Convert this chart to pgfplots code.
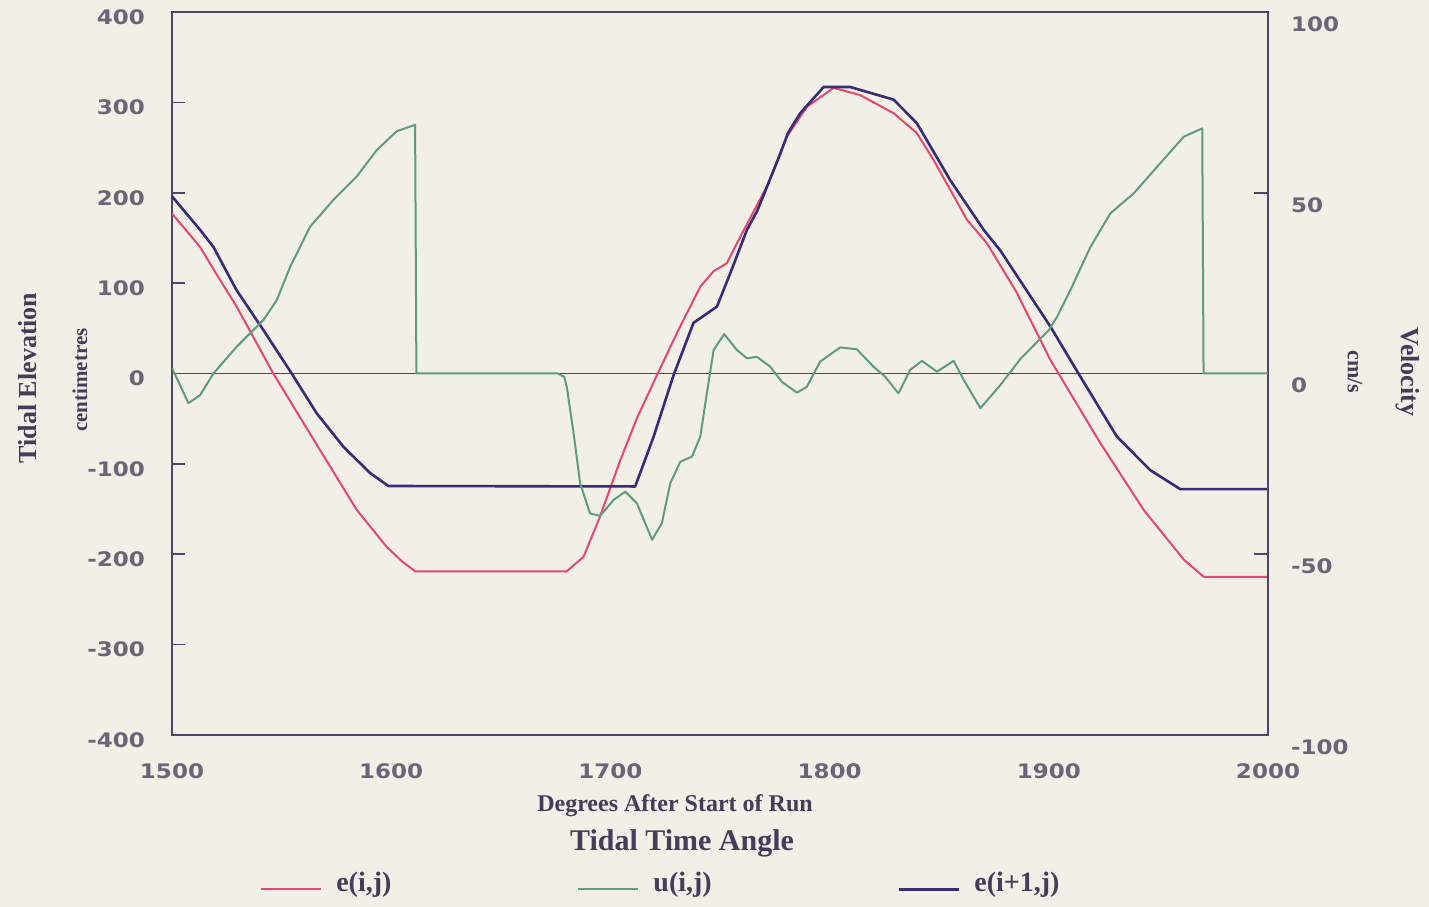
\documentclass[border=0pt]{standalone}
\usepackage{fontspec}
\setmainfont{Liberation Serif}
\newfontfamily\tickfont[FakeStretch=1.15]{DejaVu Sans}
\usepackage{pgfplots}
\pgfplotsset{compat=1.18}
\usetikzlibrary{backgrounds}

\definecolor{bg}{HTML}{F2EFE6}
\definecolor{redc}{HTML}{E8466E}
\definecolor{greenc}{HTML}{5E9C7C}
\definecolor{bluec}{HTML}{362C78}
\definecolor{axc}{HTML}{4E4668}
\definecolor{tickc}{HTML}{6A6478}
\definecolor{labc}{HTML}{443C5A}

\pgfplotsset{
  common/.style={
    scale only axis, width=548pt, height=361.5pt,
    xmin=1500, xmax=2000,
    axis line style={axc, line width=0.8pt},
    tick style={axc, line width=0.8pt},
    tick align=inside,
    /pgf/number format/assume math mode=true,
    /pgf/number format/1000 sep={},
    tick label style={font=\tickfont\bfseries\fontsize{10}{12}\selectfont, text=tickc},
  }
}

\begin{document}
\begin{tikzpicture}
\begin{axis}[common, name=main,
  ymin=-400, ymax=400,
  ytick={-400,-300,...,400},
  xtick={1500,1600,...,2000},
  ytick pos=left,
  xtick style={draw=none},
  major tick length=6.5pt,
  yticklabel style={xshift=-10pt, yshift=-2.5pt},
  xticklabel style={yshift=-11pt},
  legend columns=3,
  legend style={draw=none, fill=none, at={(0.447,-0.205)}, anchor=center,
    font=\bfseries\fontsize{14}{16}\selectfont, text=labc,
    /tikz/every odd column/.append style={column sep=5pt},
    /tikz/every even column/.append style={column sep=91pt}},
  legend image code/.code={\draw[#1] (0pt,-3pt) -- (30pt,-3pt);},
]
% zero reference line
\addplot[axc, line width=0.8pt, forget plot] coordinates {(1500,0) (2000,0)};

% e(i,j)
\addplot[redc, line width=1pt, line join=round] coordinates {
(1500,177) (1512.8,140) (1520,111) (1529.5,74) (1546.2,0) (1567.6,-85)
(1584.3,-151) (1598,-192) (1605,-208) (1611,-219) (1680,-219) (1687.7,-203)
(1695,-160) (1704.5,-96) (1712,-50) (1721.2,-2) (1731,48) (1741,96)
(1747,113) (1753.1,122) (1759.2,151) (1771.4,207) (1780.5,262) (1789.6,295)
(1801.8,316) (1814,308) (1829.2,288) (1839.8,266) (1847.5,236) (1862.7,170)
(1871.8,144) (1885.5,89) (1900.7,15) (1905.3,-3.5) (1923.5,-77) (1943.3,-151)
(1961.6,-206) (1970.7,-225) (2000,-225)
};
\addlegendentry{e(i,j)}

\addlegendimage{greenc, line width=1pt}
\addlegendentry{u(i,j)}

% e(i+1,j)
\addplot[bluec, line width=1.3pt, line join=round] coordinates {
(1500,196) (1512.8,159) (1518.9,140) (1529.5,92) (1541.7,48) (1554.6,0)
(1566,-44) (1578.2,-81) (1590.3,-110) (1598.7,-124.5) (1711.3,-125)
(1719.7,-70) (1728.8,-2) (1737.9,56) (1748.6,74) (1754.7,111) (1762.3,159)
(1767,180) (1772,210) (1777,240) (1781,266) (1786.6,288) (1797.3,317)
(1809.4,317) (1829.2,303) (1839.8,277) (1855,214) (1870.3,159) (1877.9,136)
(1900.7,52) (1914.4,-3.5) (1931.1,-70) (1946.3,-107) (1960,-128) (2000,-128)
};
\addlegendentry{e(i+1,j)}
\end{axis}

\begin{axis}[common,
  at={(main.south west)}, anchor=south west,
  ymin=-100, ymax=100,
  ytick={-100,-50,...,100},
  axis x line=none,
  axis y line*=right,
  major tick length=7pt,
  yticklabel style={xshift=8pt, yshift=-6pt},
]
% u(i,j), velocity in cm/s
\addplot[greenc, line width=1pt, line join=round] coordinates {
(1500,1.5) (1507.5,-8.2) (1512.8,-6) (1518.9,0) (1529.5,7.4) (1541.7,14.8)
(1547.8,20.3) (1553.9,29.5) (1563,40.6) (1573.6,48) (1584.3,54.5)
(1593.4,61.8) (1602.5,67) (1610.9,68.8) (1611.5,0) (1676,0) (1679,-1)
(1680.1,-3.7) (1683.2,-16.5) (1686.2,-30.4) (1690.7,-38.7) (1695.3,-39.4)
(1701.4,-35) (1706.8,-32.7) (1712.1,-35.9) (1719,-46) (1723.5,-41.4)
(1727.3,-30.4) (1731.9,-24.4) (1737.2,-23) (1741,-17.5) (1744,-5.5)
(1747.1,6.5) (1751.9,10.9) (1757.7,6.5) (1762.3,4.2) (1766.8,4.6)
(1772.9,1.9) (1778.2,-2.3) (1785.1,-5.3) (1789.6,-3.7) (1795.7,3.3)
(1804.8,7.2) (1812.4,6.7) (1820,1.9) (1825.4,-0.9) (1831.4,-5.5)
(1836.8,1) (1842.1,3.5) (1849,0.5) (1856.6,3.5) (1861.2,-1.8)
(1868.8,-9.6) (1877.9,-3.2) (1887,4) (1900,12) (1903.8,15.7) (1909.8,23)
(1919,35) (1928.1,44.3) (1938.7,49.8) (1950.9,58.2) (1961.6,65.5)
(1970,67.8) (1970.6,0) (2000,0)
};
\end{axis}

% axis titles
\node[rotate=90, text=labc, font=\bfseries\fontsize{13}{15}\selectfont]
  at ([shift={(-72pt,178.5pt)}]main.south west) {Tidal Elevation};
\node[rotate=90, text=labc, font=\bfseries\fontsize{10.5}{12}\selectfont]
  at ([shift={(-46pt,177.5pt)}]main.south west) {centimetres};
\node[rotate=-90, text=labc, font=\bfseries\fontsize{13}{15}\selectfont]
  at ([shift={(618pt,181.5pt)}]main.south west) {Velocity};
\node[rotate=-90, text=labc, font=\bfseries\fontsize{11}{13}\selectfont]
  at ([shift={(591.5pt,181.5pt)}]main.south west) {cm/s};
\node[text=labc, font=\bfseries\fontsize{12}{14}\selectfont]
  at ([shift={(251.5pt,-35.5pt)}]main.south west) {Degrees After Start of Run};
\node[text=labc, font=\bfseries\fontsize{15}{17}\selectfont]
  at ([shift={(255pt,-54pt)}]main.south west) {Tidal Time Angle};

\begin{scope}[on background layer]
\fill[bg] ([shift={(-86pt,-86pt)}]main.south west) rectangle ([shift={(80.5pt,6pt)}]main.north east);
\end{scope}
\pgfresetboundingbox
\path ([shift={(-86pt,-86pt)}]main.south west) rectangle ([shift={(80.5pt,6pt)}]main.north east);
\end{tikzpicture}
\end{document}
